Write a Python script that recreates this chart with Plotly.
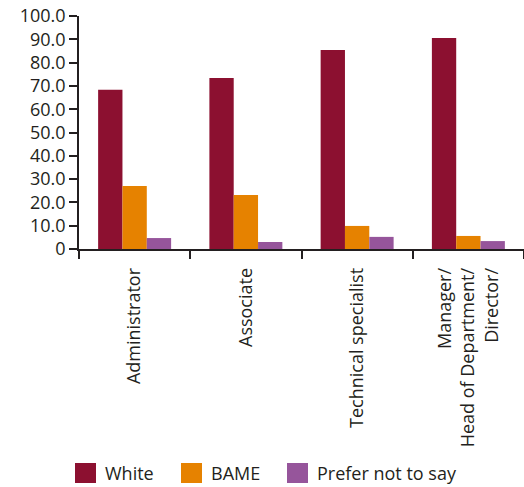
import plotly.graph_objects as go

# Staff roles and share of each ethnicity group (%)
roles = ["Administrator", "Associate", "Technical specialist",
         "Manager/<br>Head of Department/<br>Director/"]
series_names = ["White", "BAME", "Prefer not to say"]
white = [68.3, 73.4, 85.4, 90.6]
bame = [27.0, 23.2, 9.9, 5.6]
prefer_not = [4.7, 3.0, 5.2, 3.4]
colors = ["#8C1030", "#E68200", "#96559B"]

y_tick_vals = [0, 10, 20, 30, 40, 50, 60, 70, 80, 90, 100]
y_tick_text = ["0", "10.0", "20.0", "30.0", "40.0", "50.0", "60.0",
               "70.0", "80.0", "90.0", "100.0"]

FONT = "Open Sans"
INK = "#231F20"

fig = go.Figure()
for name, vals, col in zip(series_names, [white, bame, prefer_not], colors):
    fig.add_trace(go.Bar(x=roles, y=vals, name=name, marker_color=col,
                         marker_line_width=0, showlegend=False))

# Legend drawn as paper-positioned swatches with labels
plot_left, plot_width = 79, 445
plot_bottom, plot_height = 249, 233
def px_x(px):
    return (px - plot_left) / plot_width
def px_y(py):
    return (plot_bottom - py) / plot_height

swatch_x = [75, 181, 287]
for sx, name, col in zip(swatch_x, series_names, colors):
    fig.add_shape(type="rect", xref="paper", yref="paper",
                  x0=px_x(sx), x1=px_x(sx + 21), y0=px_y(483), y1=px_y(463),
                  fillcolor=col, line_width=0)
    fig.add_annotation(xref="paper", yref="paper", x=px_x(sx + 28), y=px_y(473),
                       text=name, showarrow=False, xanchor="left", yanchor="middle",
                       font=dict(family=FONT, size=18, color=INK))

fig.update_layout(
    width=524, height=487,
    margin=dict(l=79, r=0, t=16, b=238),
    paper_bgcolor="white", plot_bgcolor="white",
    barmode="group", bargap=0.344, bargroupgap=0,
    font=dict(family=FONT, size=18, color=INK),
    showlegend=False,
)
fig.update_xaxes(
    type="category", tickson="boundaries", ticks="outside", ticklen=8,
    tickwidth=1.5, tickcolor=INK, showline=True, linecolor=INK, linewidth=1.5,
    tickangle=-90, showgrid=False, ticklabelstandoff=10,
    tickfont=dict(family=FONT, size=18, color=INK),
)
fig.update_yaxes(
    range=[0, 100], tickvals=y_tick_vals, ticktext=y_tick_text,
    ticks="outside", ticklen=8, tickwidth=1.5, tickcolor=INK,
    showline=True, linecolor=INK, linewidth=1.5, showgrid=False, zeroline=False,
    tickfont=dict(family=FONT, size=18, color=INK),
)

fig.write_html("out.html")
